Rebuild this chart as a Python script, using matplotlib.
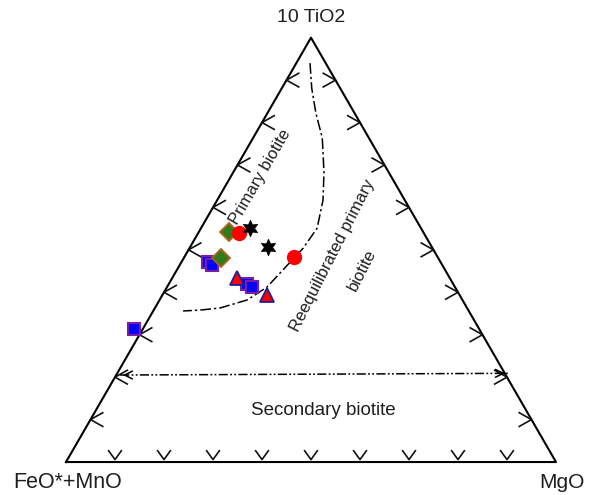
import numpy as np
import matplotlib
matplotlib.use("Agg")
from matplotlib import pyplot as plt

plt.rcParams['font.family'] = ['Liberation Sans', 'DejaVu Sans']

# samples: (TiO2*10, FeO*+MnO, MgO) in %, normalised
green_diamond = [(54.2, 39.6, 6.2), (48.1, 44.3, 7.6)]
red_circle = [(54.0, 37.7, 8.3), (48.3, 29.3, 22.4)]
black_star = [(55.2, 34.9, 9.9), (50.7, 33.4, 15.9)]
blue_square = [(47.1, 47.5, 5.4), (46.4, 47.0, 6.6), (42.0, 42.1, 15.9),
               (41.2, 41.4, 17.4), (31.3, 70.5, -1.8)]
red_triangle = [(43.4, 43.4, 13.2), (39.4, 39.3, 21.3)]

# field boundaries
primary_T = [94.0, 88.1, 82.2, 76.4, 68.3, 61.7, 55.1, 50.4, 47.1, 41.2, 38.2, 36.3, 35.8, 35.6]
primary_M = [2.8, 6.1, 9.9, 14.1, 18.5, 21.6, 23.7, 23.2, 22.2, 20.4, 17.9, 13.3, 9.4, 6.1]
secondary_T = [20.5, 20.9]
secondary_M = [0.8, 79.7]

ticks = [10, 20, 30, 40, 50, 60, 70, 80, 90]

S3 = np.sqrt(3)


def tern(T, M):
    T = np.asarray(T, float) / 100.0
    M = np.asarray(M, float) / 100.0
    return M + T / 2.0, T * S3 / 2.0


fig = plt.figure(figsize=(5.92, 4.95), dpi=100)
ax = fig.add_axes([0, 0, 1, 1])
ax.set_xlim(-0.1347, 1.0735)
ax.set_ylim(-0.0673, 0.9429)
ax.axis('off')

# triangle
tx, ty = tern([0, 0, 100, 0], [0, 100, 0, 0])
ax.plot(tx, ty, color='black', lw=1.5, zorder=2)

# chevron ticks
for t in ticks:
    # bottom  V
    x, y = tern(0, t)
    ax.plot([x - 0.013, x, x + 0.013], [y + 0.023, y + 0.005, y + 0.023], color='#111111', lw=1.2)
    # left  <
    x, y = tern(t, 0)
    ax.plot([x + 0.025, x, x + 0.025], [y + 0.014, y, y - 0.014], color='#111111', lw=1.2)
    # right  >
    x, y = tern(t, 100 - t)
    ax.plot([x - 0.025, x, x - 0.025], [y + 0.014, y, y - 0.014], color='#111111', lw=1.2)

# boundaries
px, py = tern(primary_T, primary_M)
ax.plot(px, py, color='black', lw=1.1, linestyle=(0, (7, 2, 1.5, 2)), zorder=2)

sx, sy = tern(secondary_T, secondary_M)
ax.plot(sx, sy, color='black', lw=1.1, linestyle=(0, (6, 1.5, 1.2, 1.5, 1.2, 1.5)), zorder=2)
ax.annotate('', xy=(sx[0], sy[0]), xytext=(sx[0] + 0.02, sy[0]),
            arrowprops=dict(arrowstyle='->', lw=1.1, color='black', mutation_scale=14))
ax.annotate('', xy=(sx[1], sy[1]), xytext=(sx[1] - 0.02, sy[1]),
            arrowprops=dict(arrowstyle='->', lw=1.1, color='black', mutation_scale=14))

# samples
def plot_pts(pts, **kw):
    T = [p[0] for p in pts]
    M = [p[2] for p in pts]
    x, y = tern(T, M)
    ax.plot(x, y, linestyle='none', zorder=5, **kw)

plot_pts(blue_square, marker='s', ms=9, mfc='#0000ff', mec='#7a1fa0', mew=1.5)
plot_pts(red_triangle, marker='^', ms=10, mfc='#ff0000', mec='#1f1f9a', mew=1.3)
plot_pts(green_diamond, marker='D', ms=9, mfc='#2f7d1a', mec='#b0601a', mew=1.3)
plot_pts(red_circle, marker='o', ms=11, mfc='#ff0000', mec='#ff0000', mew=0)
plot_pts(black_star, marker=(6, 1, 0), ms=12, mfc='black', mec='black', mew=0.5)

# labels
tc = '#1e1e1e'
ax.text(0.5, 0.907, '10 TiO2', ha='center', va='center', fontsize=14, color=tc)
ax.text(0.004, -0.041, 'FeO*+MnO', ha='center', va='center', fontsize=15.5, color=tc)
ax.text(1.012, -0.041, 'MgO', ha='center', va='center', fontsize=15, color=tc)
ax.text(0.5245, 0.1061, 'Secondary biotite', ha='center', va='center', fontsize=13.5, color=tc)
ax.text(0.396, 0.5816, 'Primary biotite', ha='center', va='center', fontsize=12, rotation=60, color=tc)
ax.text(0.545, 0.4224, 'Reequilibrated primary', ha='center', va='center', fontsize=12, rotation=63, color=tc)
ax.text(0.6041, 0.3918, 'biotite', ha='center', va='center', fontsize=12, rotation=63, color=tc)

fig.savefig('out.png', dpi=100)
